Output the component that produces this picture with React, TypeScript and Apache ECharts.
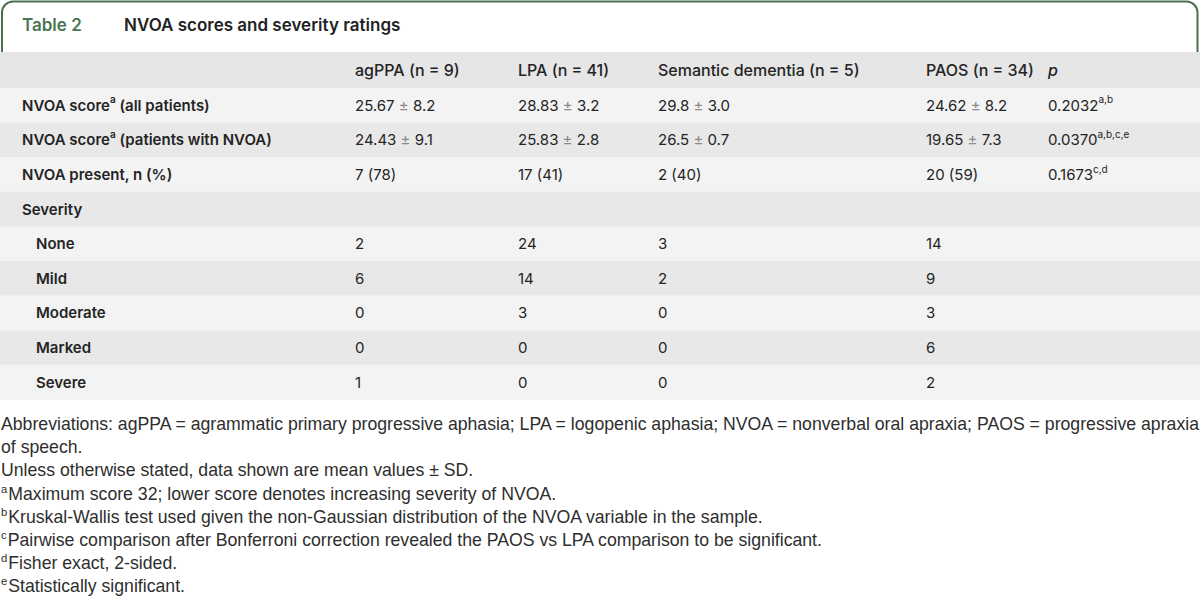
import React, { useEffect, useRef } from "react";
import * as echarts from "echarts";

const titleLabel = "Table 2";
const titleText = "NVOA scores and severity ratings";

const columnHeaders = ["agPPA (n = 9)", "LPA (n = 41)", "Semantic dementia (n = 5)", "PAOS (n = 34)", "p"];

const rowLabels = [
  "NVOA score{sup|a} (all patients)",
  "NVOA score{sup|a} (patients with NVOA)",
  "NVOA present, n (%)",
  "Severity",
  "None",
  "Mild",
  "Moderate",
  "Marked",
  "Severe",
];
const rowIndented = [false, false, false, false, true, true, true, true, true];

const agPPA = ["25.67 {pm|±} 8.2", "24.43 {pm|±} 9.1", "7 (78)", "", "2", "6", "0", "0", "1"];
const lpa = ["28.83 {pm|±} 3.2", "25.83 {pm|±} 2.8", "17 (41)", "", "24", "14", "3", "0", "0"];
const semanticDementia = ["29.8 {pm|±} 3.0", "26.5 {pm|±} 0.7", "2 (40)", "", "3", "2", "0", "0", "0"];
const paos = ["24.62 {pm|±} 8.2", "19.65 {pm|±} 7.3", "20 (59)", "", "14", "9", "3", "6", "2"];
const pValues = ["0.2032{sup|a,b}", "0.0370{sup|a,b,c,e}", "0.1673{sup|c,d}", "", "", "", "", "", ""];

const footnotes = [
  "Abbreviations: agPPA = agrammatic primary progressive aphasia; LPA = logopenic aphasia; NVOA = nonverbal oral apraxia; PAOS = progressive apraxia",
  "of speech.",
  "Unless otherwise stated, data shown are mean values ± SD.",
  "{sup|a}Maximum score 32; lower score denotes increasing severity of NVOA.",
  "{sup|b}Kruskal-Wallis test used given the non-Gaussian distribution of the NVOA variable in the sample.",
  "{sup|c}Pairwise comparison after Bonferroni correction revealed the PAOS vs LPA comparison to be significant.",
  "{sup|d}Fisher exact, 2-sided.",
  "{sup|e}Statistically significant.",
];

const W = 1200;
const H = 596;

export default function App() {
  const ref = useRef<HTMLDivElement>(null);
  useEffect(() => {
    if (!ref.current) return;
    const chart = echarts.init(ref.current, null, { renderer: "svg", width: W, height: H });
    const green = "#4b6f4f";
    const textColor = "#242424";
    const tableFont = "Inter, 'Noto Sans', sans-serif";
    const noteFont = "'Liberation Sans', Arial, sans-serif";
    const colX = [355, 518, 658, 926, 1048];
    const headerTop = 52;
    const headerH = 36;
    const rowH = 34.6;
    const els: any[] = [];

    // title box
    els.push({
      type: "rect",
      shape: { x: 2, y: 1.5, width: 1195.5, height: 70, r: [11, 11, 0, 0] },
      style: { fill: "#ffffff", stroke: green, lineWidth: 2 },
    });
    els.push({
      type: "text",
      x: 22,
      y: 25,
      style: { text: titleLabel, fontFamily: tableFont, fontSize: 17, fontWeight: 600, fill: "#4a7652", verticalAlign: "middle" },
    });
    els.push({
      type: "text",
      x: 124,
      y: 25,
      style: { text: titleText, fontFamily: tableFont, fontSize: 17, fontWeight: 600, fill: "#222", verticalAlign: "middle" },
    });

    // header row
    els.push({ type: "rect", shape: { x: 0, y: headerTop, width: W, height: headerH }, style: { fill: "#e6e6e6" } });
    columnHeaders.forEach((h, i) => {
      els.push({
        type: "text",
        x: colX[i],
        y: headerTop + headerH / 2,
        style: {
          text: h,
          fontFamily: tableFont,
          fontSize: 16,
          fontWeight: 500,
          fontStyle: i === 4 ? "italic" : "normal",
          fill: textColor,
          verticalAlign: "middle",
        },
      });
    });

    const supStyle = { fontSize: 10, lineHeight: 12, verticalAlign: "top", fontFamily: tableFont, fill: textColor };
    const pmStyle = { fontSize: 15, fontFamily: tableFont, fill: "#8a8a8a", lineHeight: 22 };

    const cols = [agPPA, lpa, semanticDementia, paos, pValues];
    rowLabels.forEach((label, r) => {
      const top = headerTop + headerH + r * rowH;
      els.push({
        type: "rect",
        shape: { x: 0, y: top, width: W, height: rowH + 0.5 },
        style: { fill: r % 2 === 0 ? "#f3f3f3" : "#e8e8e8" },
      });
      const cy = top + rowH / 2;
      els.push({
        type: "text",
        x: rowIndented[r] ? 36 : 22,
        y: cy,
        style: {
          text: label,
          fontFamily: tableFont,
          fontSize: 15,
          fontWeight: 600,
          fill: textColor,
          verticalAlign: "middle",
          lineHeight: 22,
          rich: { sup: { ...supStyle, fontWeight: 600 } },
        },
      });
      cols.forEach((col, c) => {
        if (!col[r]) return;
        els.push({
          type: "text",
          x: colX[c],
          y: cy,
          style: {
            text: col[r],
            fontFamily: tableFont,
            fontSize: 15,
            fontWeight: 400,
            fill: textColor,
            verticalAlign: "middle",
            lineHeight: 22,
            rich: { sup: supStyle, pm: pmStyle },
          },
        });
      });
    });

    // footnotes
    footnotes.forEach((f, i) => {
      els.push({
        type: "text",
        x: 1,
        y: 424 + i * 23.2,
        scaleX: 0.982,
        style: {
          text: f,
          fontFamily: noteFont,
          fontSize: 18,
          fill: "#2e2e2e",
          verticalAlign: "middle",
          lineHeight: 22,
          rich: {
            sup: { fontSize: 11.5, lineHeight: 13, verticalAlign: "top", fontFamily: noteFont, fill: "#2e2e2e", padding: [0, 1, 0, 0] },
          },
        },
      });
    });

    chart.setOption({
      animation: false,
      backgroundColor: "#ffffff",
      graphic: { elements: els },
    });
    return () => chart.dispose();
  }, []);
  return (
    <div
      ref={ref}
      style={{ position: "absolute", left: 0, top: 0, width: W, height: H }}
    />
  );
}
